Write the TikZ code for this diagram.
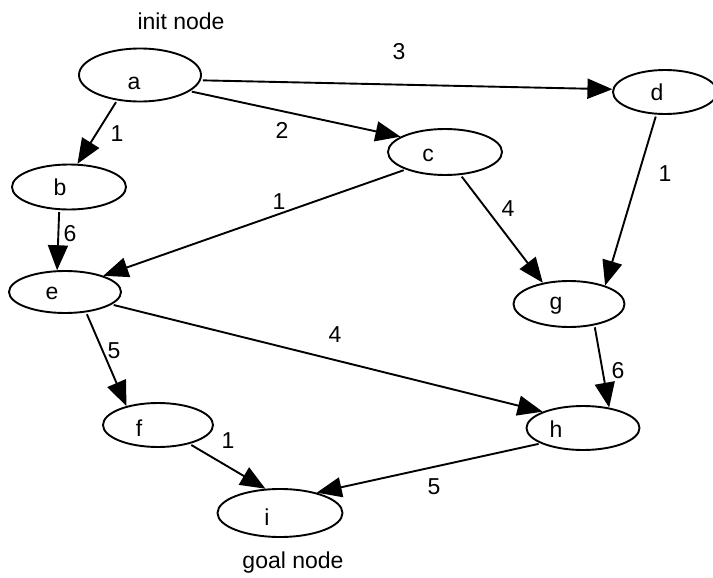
\documentclass[tikz,border=0pt]{standalone}
\usepackage{fontspec}
\setmainfont{Liberation Sans}
\usetikzlibrary{arrows.meta,shapes.geometric}
\begin{document}
\begin{tikzpicture}[x=1pt,y=-1pt,
    st/.style={draw,ellipse,line width=1.9pt,inner sep=0pt},
    nm/.style={font=\fontsize{23}{27}\selectfont},
    wt/.style={font=\fontsize{23}{27}\selectfont},
    ed/.style={line width=1.9pt,-{Triangle[length=25pt,width=20pt]},shorten <=2pt}]
    \useasboundingbox (0,0) rectangle (713,578);
    % nodes
    \node[st,minimum width=122pt,minimum height=53pt,
        label={[nm,shift={(-6,8)}]center:a}] (a) at (140,75) {};
    \node[st,minimum width=114pt,minimum height=45pt,
        label={[nm,shift={(-9,0)}]center:b}] (b) at (69,187) {};
    \node[st,minimum width=114pt,minimum height=46pt,
        label={[nm,shift={(-17,3)}]center:c}] (c) at (445,152) {};
    \node[st,minimum width=104pt,minimum height=44pt,
        label={[nm,shift={(-8,0)}]center:d}] (d) at (665,92) {};
    \node[st,minimum width=112pt,minimum height=42pt,
        label={[nm,shift={(-13,1)}]center:e}] (e) at (65,292) {};
    \node[st,minimum width=110pt,minimum height=44pt,
        label={[nm,shift={(-19,3)}]center:f}] (f) at (158,425) {};
    \node[st,minimum width=111pt,minimum height=46pt,
        label={[nm,shift={(-13,2)}]center:g}] (g) at (569,304) {};
    \node[st,minimum width=113pt,minimum height=44pt,
        label={[nm,shift={(-27,1)}]center:h}] (h) at (583,428) {};
    \node[st,minimum width=125pt,minimum height=48pt,
        label={[nm,shift={(-13,4)}]center:i}] (i) at (280,513) {};
    \node[wt] (init) at (181,21) {init node};
    \node[wt] (goal) at (293,563) {goal node};
    % edges
    \draw[ed] (a.228) -- (b.70);
    \draw[ed] (a.342) -- (c.161);
    \draw[ed] (a.355) -- (d.177);
    \draw[ed] (b.247) -- (e.110);
    \draw[ed] (c.204) -- (e.23);
    \draw[ed] (c.304) -- (g.141);
    \draw[ed] (d.249) -- (g.27);
    \draw[ed] (e.345) -- (h.158);
    \draw[ed] (e.316) -- (f.149);
    \draw[ed] (g.320) -- (h.38);
    \draw[ed] (f.329) -- (i.121);
    \draw[ed] (h.200) -- (i.29);
    % weights
    \node[wt] (wab) at (117,134) {1};
    \node[wt] (wac) at (282,130) {2};
    \node[wt] (wad) at (399,52) {3};
    \node[wt] (wbe) at (70,234) {6};
    \node[wt] (wce) at (279,202) {1};
    \node[wt] (wcg) at (508,209) {4};
    \node[wt] (wdg) at (665,174) {1};
    \node[wt] (weh) at (335,335) {4};
    \node[wt] (wef) at (114,351) {5};
    \node[wt] (wgh) at (618,371) {6};
    \node[wt] (wfi) at (228,441) {1};
    \node[wt] (whi) at (434,487) {5};
\end{tikzpicture}
\end{document}
